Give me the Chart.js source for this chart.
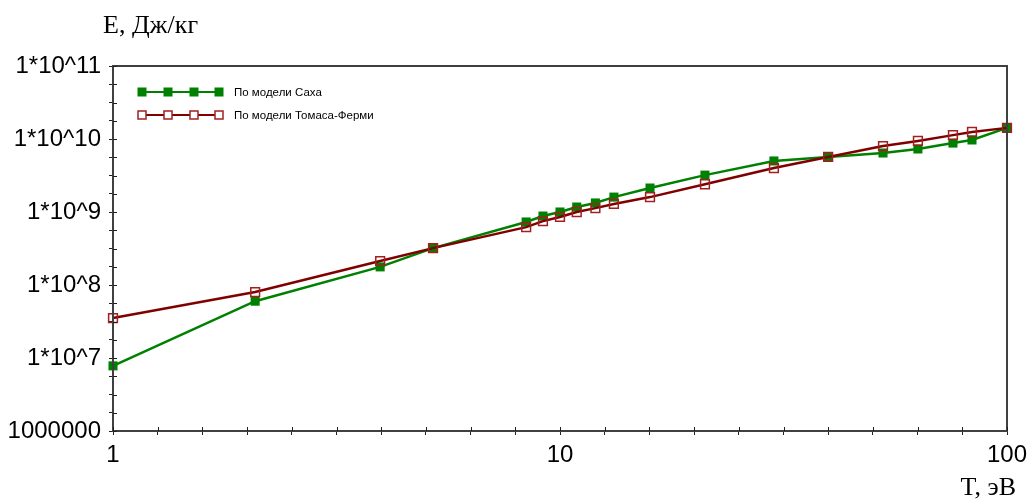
<!DOCTYPE html>
<html>
<head>
<meta charset="utf-8">
<script src="https://cdn.jsdelivr.net/npm/chart.js@4.4.1/dist/chart.umd.min.js"></script>
<style>
  html, body { margin: 0; padding: 0; background: #fff; }
  #wrap { width: 1030px; height: 499px; }
</style>
</head>
<body>
<div id="wrap"><canvas id="myChart"></canvas></div>
<script>
// temperature, eV
const tempValues = [1, 2.08, 3.96, 5.2, 8.4, 9.16, 10, 10.9, 12.0, 13.2, 15.9, 21.1, 30.1, 39.8, 52.8, 63.2, 75.7, 83.5, 100];
// energy, J/kg
const sahaValues = [7.8e6, 6.0e7, 1.77e8, 3.2e8, 7.3e8, 8.8e8, 1.0e9, 1.17e9, 1.33e9, 1.6e9, 2.13e9, 3.2e9, 5.0e9, 5.67e9, 6.43e9, 7.3e9, 8.8e9, 9.7e9, 1.42e10];
const tfValues = [3.53e7, 8.0e7, 2.13e8, 3.2e8, 6.2e8, 7.5e8, 8.55e8, 1.0e9, 1.13e9, 1.29e9, 1.6e9, 2.4e9, 4.0e9, 5.67e9, 8.0e9, 9.4e9, 1.13e10, 1.25e10, 1.42e10];

const seriesNames = ['По модели Саха', 'По модели Томаса-Ферми'];
const yTickLabels = { 6: '1000000', 7: '1*10^7', 8: '1*10^8', 9: '1*10^9', 10: '1*10^10', 11: '1*10^11' };
const xTickLabels = { 0: '1', 1: '10', 2: '100' };
const yTitle = 'E, Дж/кг';
const xTitle = 'T, эВ';

const green = '#008000';
const red = '#800000';

// tick marks evenly spaced on the log axis
function evenTicks(lo, hi, perDecade) {
    const out = [];
    for (let i = 0; i <= (hi - lo) * perDecade; i++) {
        out.push({ value: Math.pow(10, lo + i / perDecade) });
    }
    return out;
}
function powerOf(v) {
    const e = Math.log10(v);
    return Math.abs(e - Math.round(e)) < 1e-6 ? Math.round(e) : null;
}

const framePlugin = {
    id: 'frame',
    afterDraw(chart) {
        const ctx = chart.ctx;
        const a = chart.chartArea;
        ctx.save();
        ctx.strokeStyle = '#404040';
        ctx.lineWidth = 2;
        ctx.strokeRect(a.left, a.top, a.right - a.left, a.bottom - a.top);
        // inner half of tick marks
        ctx.lineWidth = 1;
        ctx.strokeStyle = '#202020';
        chart.scales.x.ticks.forEach(t => {
            const px = Math.round(chart.scales.x.getPixelForValue(t.value)) + 0.5;
            ctx.beginPath(); ctx.moveTo(px, a.bottom); ctx.lineTo(px, a.bottom - 4); ctx.stroke();
        });
        chart.scales.y.ticks.forEach(t => {
            const py = Math.round(chart.scales.y.getPixelForValue(t.value)) + 0.5;
            ctx.beginPath(); ctx.moveTo(a.left, py); ctx.lineTo(a.left + 4, py); ctx.stroke();
        });

        // legend
        const rows = [
            { name: seriesNames[0], color: green, fill: true, y: 92 },
            { name: seriesNames[1], color: red, fill: false, y: 115 }
        ];
        rows.forEach(r => {
            ctx.strokeStyle = r.color;
            ctx.lineWidth = 2;
            ctx.beginPath(); ctx.moveTo(142, r.y); ctx.lineTo(219, r.y); ctx.stroke();
            [142, 168, 194, 219].forEach(mx => {
                if (r.fill) {
                    ctx.fillStyle = r.color;
                    ctx.fillRect(mx - 4.5, r.y - 4.5, 9, 9);
                } else {
                    ctx.strokeStyle = '#a02020';
                    ctx.lineWidth = 1.5;
                    ctx.fillStyle = '#fff';
                    ctx.fillRect(mx - 4, r.y - 4, 8, 8);
                    ctx.strokeRect(mx - 4, r.y - 4, 8, 8);
                }
            });
            ctx.fillStyle = '#000';
            ctx.font = '11.5px "Liberation Sans", Arial, sans-serif';
            ctx.textBaseline = 'middle';
            ctx.textAlign = 'left';
            ctx.fillText(r.name, 234, r.y + 1);
        });

        // axis titles
        ctx.font = '26px "Liberation Serif", "Times New Roman", serif';
        ctx.textBaseline = 'alphabetic';
        ctx.textAlign = 'left';
        ctx.fillText(yTitle, 103, 33);
        ctx.textAlign = 'right';
        ctx.fillText(xTitle, 1016, 495);
        ctx.restore();
    }
};

const tickFont = { family: '"Liberation Sans", Arial, sans-serif', size: 24 };

const ctx = document.getElementById('myChart');
const myChart = new Chart(ctx, {
    type: 'line',
    data: {
        datasets: [
            {
                label: seriesNames[0],
                data: tempValues.map((t, i) => ({ x: t, y: sahaValues[i] })),
                borderColor: green,
                backgroundColor: green,
                borderWidth: 2.5,
                pointStyle: 'rect',
                pointRadius: 6.4,
                pointBorderWidth: 0,
                pointBackgroundColor: green,
                order: 1,
                clip: false
            },
            {
                label: seriesNames[1],
                data: tempValues.map((t, i) => ({ x: t, y: tfValues[i] })),
                borderColor: red,
                backgroundColor: 'rgba(0,0,0,0)',
                borderWidth: 2.5,
                pointStyle: 'rect',
                pointRadius: 6.2,
                pointBorderWidth: 1.5,
                pointBorderColor: '#a02020',
                pointBackgroundColor: 'rgba(0,0,0,0)',
                order: 0,
                clip: false
            }
        ]
    },
    options: {
        responsive: true,
        maintainAspectRatio: false,
        animation: false,
        devicePixelRatio: 1,
        layout: { padding: { left: 0, right: 23, top: 66, bottom: 0 } },
        plugins: { legend: { display: false }, tooltip: { enabled: false } },
        scales: {
            x: {
                type: 'logarithmic',
                min: 1,
                max: 100,
                afterBuildTicks: s => { s.ticks = evenTicks(0, 2, 10); },
                afterFit: s => { s.height = 68; s.paddingLeft = 0; s.paddingRight = 0; },
                ticks: {
                    autoSkip: false,
                    maxRotation: 0,
                    padding: 6,
                    color: '#000',
                    font: tickFont,
                    callback: v => { const p = powerOf(v); return p === null ? '' : xTickLabels[p]; }
                },
                grid: { drawOnChartArea: false, tickLength: 4, color: '#202020', lineWidth: 1 },
                border: { color: '#404040', width: 2 }
            },
            y: {
                type: 'logarithmic',
                min: 1e6,
                max: 1e11,
                afterBuildTicks: s => { s.ticks = evenTicks(6, 11, 4); },
                afterFit: s => { s.width = 113; s.paddingTop = 0; s.paddingBottom = 0; },
                ticks: {
                    autoSkip: false,
                    padding: 8,
                    color: '#000',
                    font: tickFont,
                    callback: v => { const p = powerOf(v); return p === null ? '' : yTickLabels[p]; }
                },
                grid: { drawOnChartArea: false, tickLength: 4, color: '#202020', lineWidth: 1 },
                border: { color: '#404040', width: 2 }
            }
        }
    },
    plugins: [framePlugin]
});
</script>
</body>
</html>
